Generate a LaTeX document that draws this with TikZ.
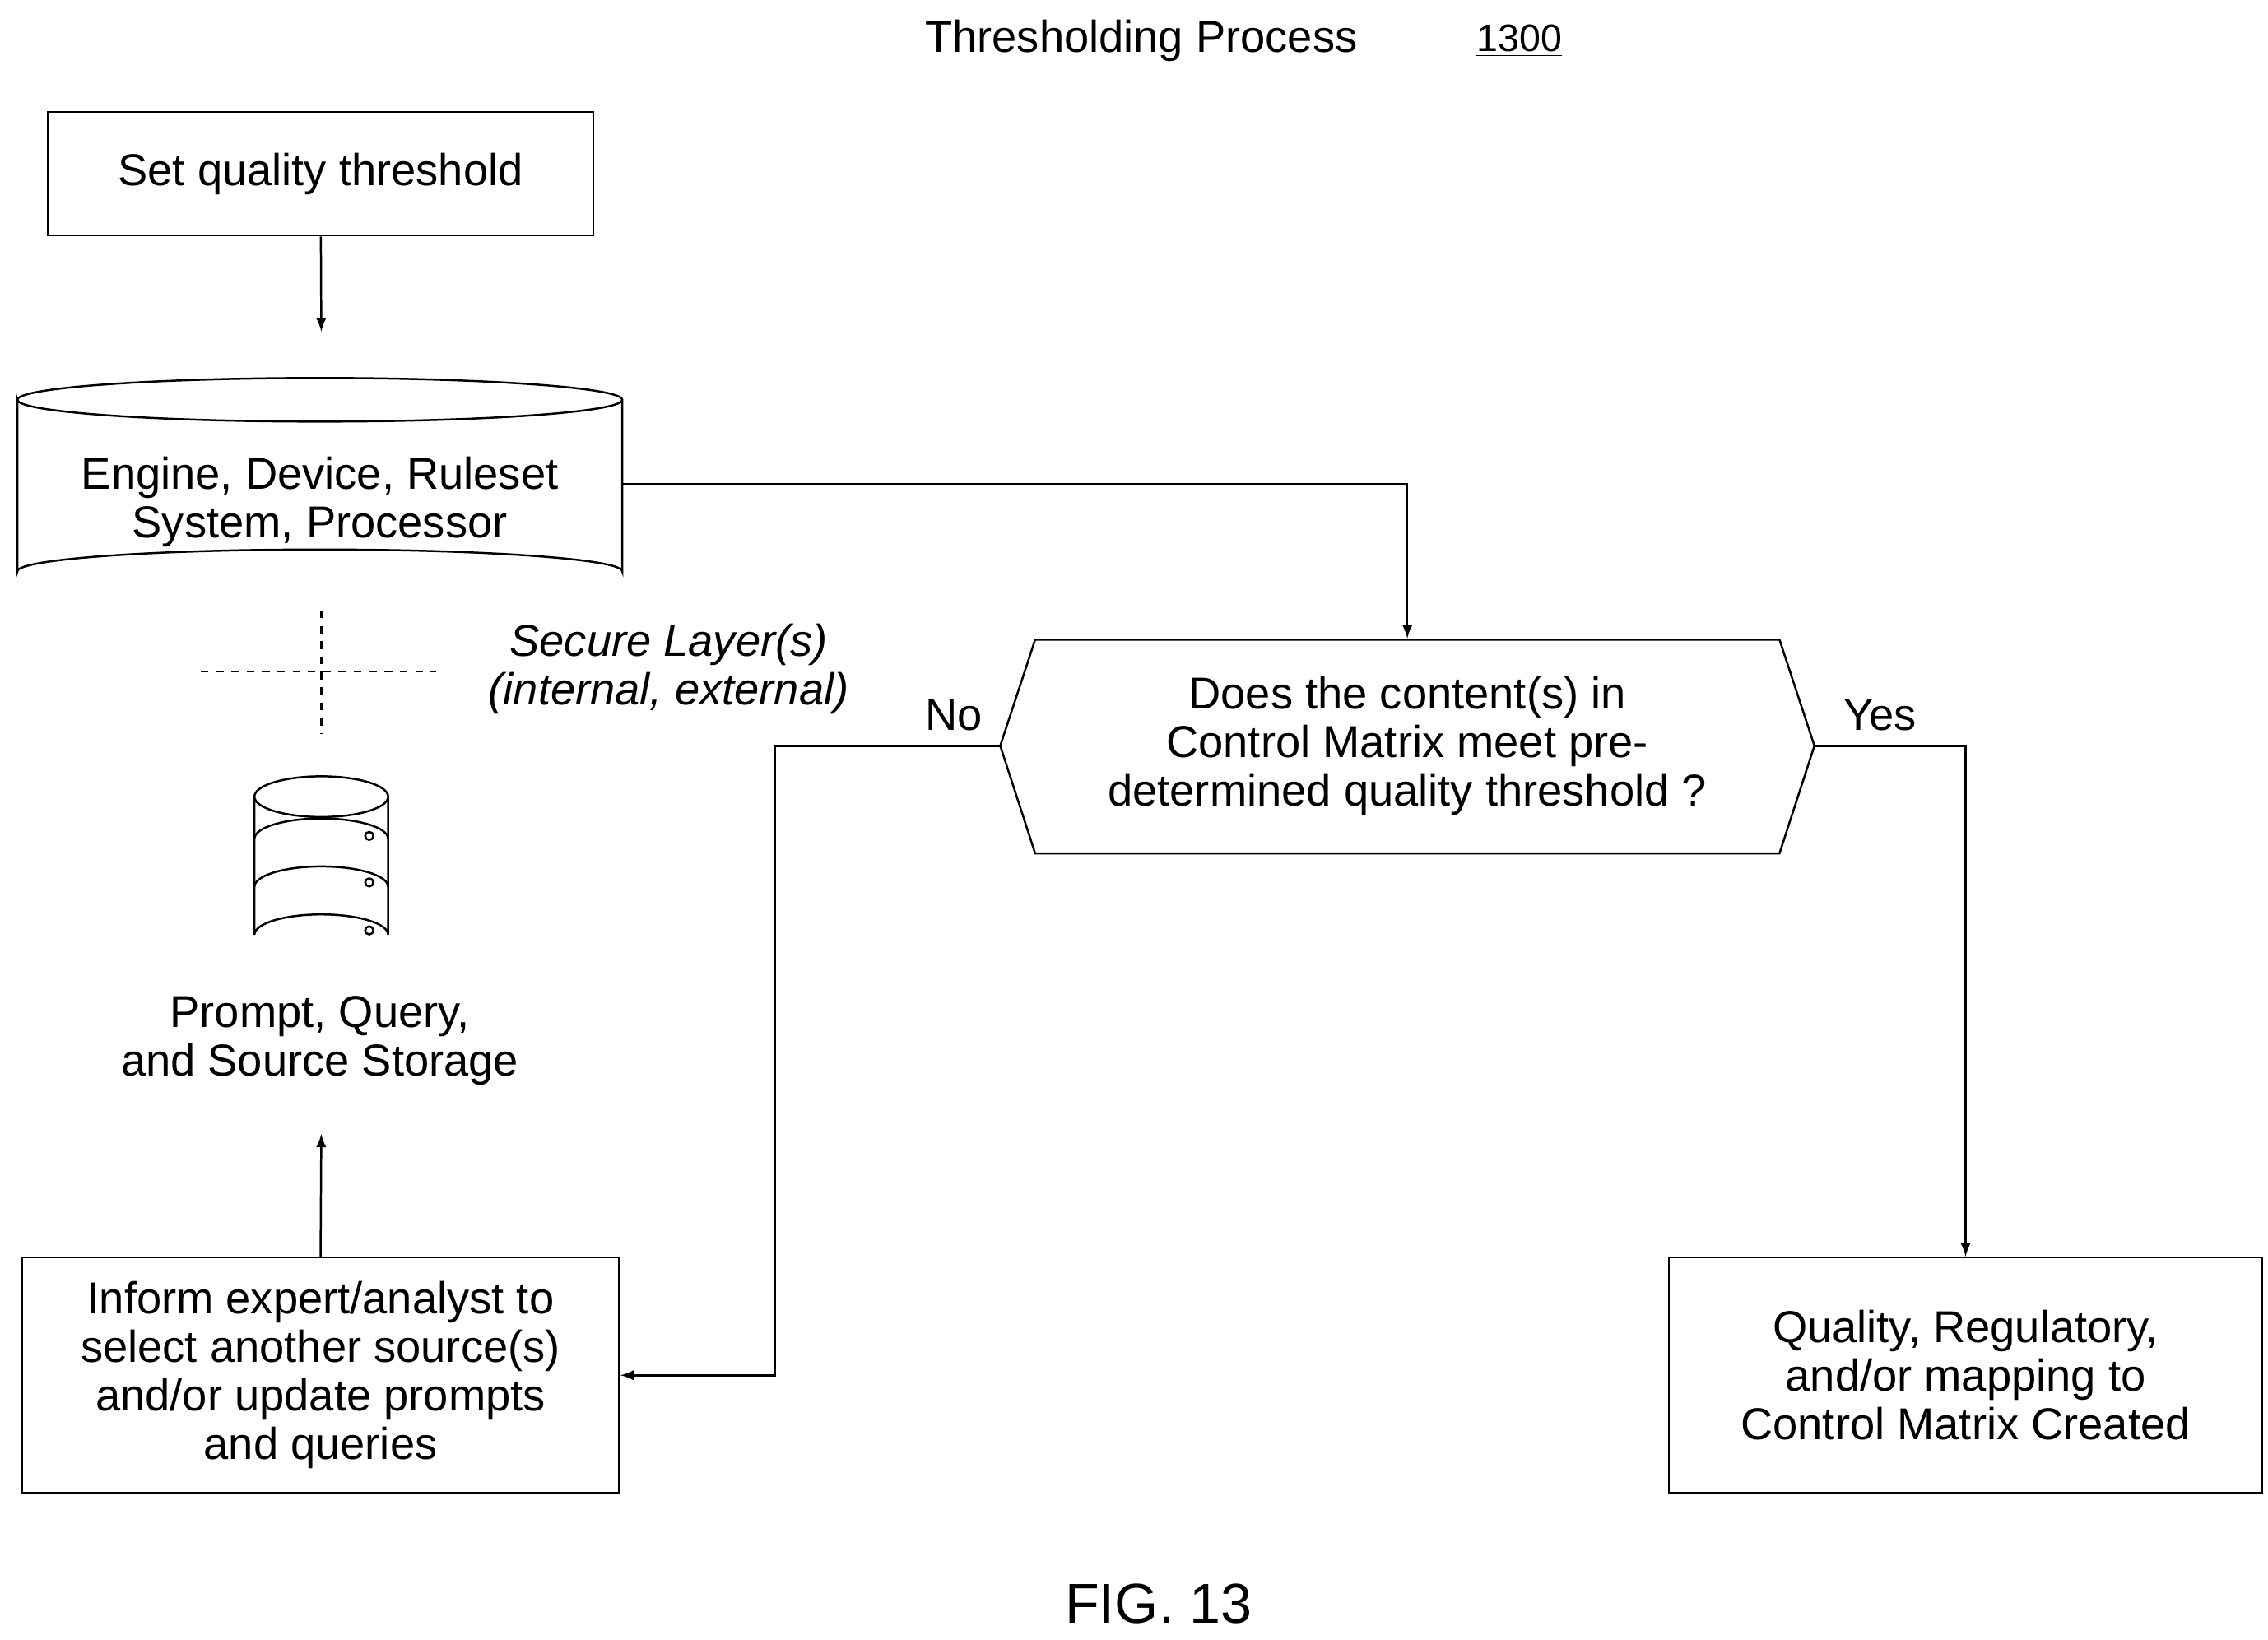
\documentclass[tikz,border=0pt]{standalone}
\usepackage{fontspec}
\setmainfont{Liberation Sans}
\usetikzlibrary{positioning}
\tikzset{
  box/.style={draw, thick, align=center, font=\fontsize{17.5}{19}\selectfont},
  lbl/.style={align=center, font=\fontsize{17.5}{19}\selectfont},
  flow/.style={thick, -latex},
}
\begin{document}
\begin{tikzpicture}[x=0.02cm, y=-0.02cm]
  \useasboundingbox (0,0) rectangle (1560,1128);
  % title
  \node[lbl] (title) at (785,28) {Thresholding Process};
  \node[font=\fontsize{15}{17}\selectfont] (num) at (1045,28) {\underline{1300}};
  \node[font=\fontsize{22}{24}\selectfont] (fig) at (797,1103) {FIG. 13};
  % boxes
  \node[box, minimum width=375*0.02cm, minimum height=85*0.02cm] (set) at (220.5,119.5) {Set quality threshold};
  \node[box, minimum width=411*0.02cm, minimum height=162*0.02cm] (inform) at (220.5,946) {Inform expert/analyst to\\select another source(s)\\and/or update prompts\\and queries};
  \node[box, minimum width=408*0.02cm, minimum height=162*0.02cm] (quality) at (1352,946) {Quality, Regulatory,\\and/or mapping to\\Control Matrix Created};
  % cylinder
  \draw[thick] (12,275) arc[start angle=180, end angle=360, x radius=208, y radius=15]
    arc[start angle=0, end angle=180, x radius=208, y radius=15] -- (12,393)
    arc[start angle=180, end angle=360, x radius=208, y radius=15] -- (428,275);
  \node[lbl] (engine) at (220,345) {Engine, Device, Ruleset\\System, Processor};
  \coordinate (engineR) at (428,333);
  \coordinate (engineB) at (221,408);
  % secure layer
  \draw[thick, dashed] (221,420) -- (221,505);
  \draw[thick, dashed] (138,462) -- (300,462);
  \node[lbl, font=\fontsize{17.5}{19}\selectfont\itshape] (secure) at (460,460) {Secure Layer(s)\\(internal, external)};
  % storage icon
  \draw[thick] (175,548) arc[start angle=180, end angle=360, x radius=46, y radius=14]
    arc[start angle=0, end angle=180, x radius=46, y radius=14] -- (175,643)
    arc[start angle=180, end angle=360, x radius=46, y radius=14] -- (267,548);
  \foreach \yy in {577,610} {
    \draw[thick] (175,\yy) arc[start angle=180, end angle=360, x radius=46, y radius=14];
  }
  \foreach \yy in {575,607,640} {
    \draw[thick] (254,\yy) circle[radius=2.8];
  }
  \node[lbl] (storage) at (220,716) {Prompt, Query,\\and Source Storage};
  % decision
  \node[lbl, minimum width=512*0.02cm, minimum height=147*0.02cm] (decision) at (968,513) {Does the content(s) in\\Control Matrix meet pre-\\determined quality threshold ?};
  \draw[thick] (688,513) -- (712,440) -- (1224,440) -- (1248,513) -- (1224,587) -- (712,587) -- cycle;
  \coordinate (decL) at (688,513);
  \coordinate (decR) at (1248,513);
  % connectors
  \draw[flow] (set) -- (221,228);
  \draw[flow] (engineR) -| (decision.north);
  \draw[flow] (decL) -- (533,513) |- (inform.east);
  \draw[flow] (decR) -| (quality.north);
  \draw[flow] (inform.north) -- (221,780);
  \node[lbl] (no) at (656,492) {No};
  \node[lbl] (yes) at (1293,492) {Yes};
\end{tikzpicture}
\end{document}
